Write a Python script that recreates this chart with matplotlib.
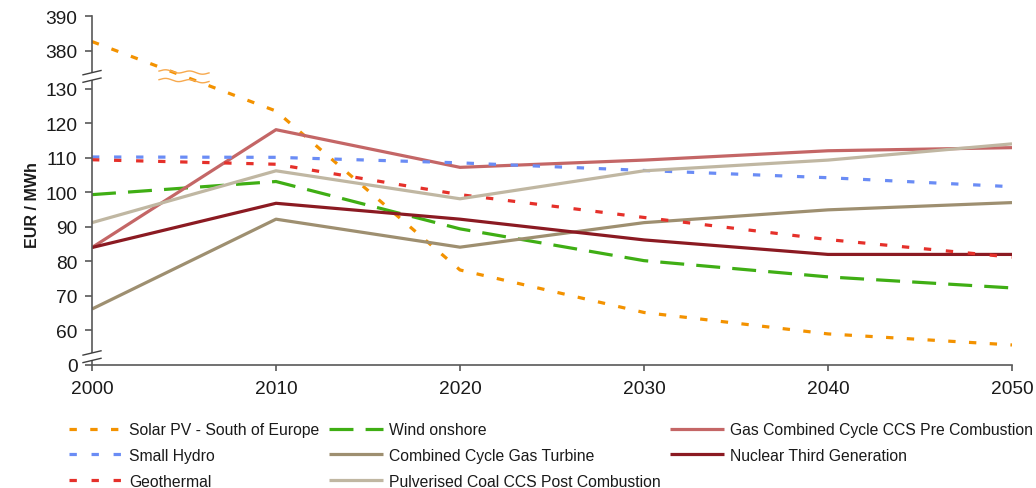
import numpy as np
import matplotlib
matplotlib.use("Agg")
import matplotlib.pyplot as plt
from matplotlib import transforms

# Levelised cost of electricity, EUR / MWh
years = [2000, 2010, 2020, 2030, 2040, 2050]

solar_pv = [382.6, 123.5, 77.5, 65.2, 59.0, 55.8]
wind_onshore = [99.3, 103.1, 89.4, 80.2, 75.5, 72.3]
small_hydro = [110.2, 110.1, 108.5, 106.3, 104.2, 101.6]
geothermal = [109.4, 108.1, 99.3, 92.7, 86.3, 81.2]
gas_cc_ccs_pre = [84.0, 118.1, 107.2, 109.3, 112.0, 112.9]
ccgt = [66.2, 92.2, 84.1, 91.2, 94.9, 97.0]
coal_ccs_post = [91.2, 106.2, 98.1, 106.2, 109.3, 114.0]
nuclear_gen3 = [84.0, 96.8, 92.2, 86.2, 82.0, 82.0]

y_ticks = [0, 60, 70, 80, 90, 100, 110, 120, 130, 380, 390]
x_ticks = years

plt.rcParams["font.family"] = ["Liberation Sans", "DejaVu Sans"]

# Broken value axis: 0..54 and 130..380 are squeezed together
BREAK_VALUES = [0, 54, 130, 380, 390]
BREAK_POS = [50, 54, 130, 141, 151]


def forward(v):
    return np.interp(v, BREAK_VALUES, BREAK_POS)


def inverse(p):
    return np.interp(p, BREAK_POS, BREAK_VALUES)


fig = plt.figure(figsize=(10.36, 4.89), dpi=100)
ax = fig.add_axes([92 / 1036, 123 / 489, 920 / 1036, 349 / 489])
ax.set_yscale("function", functions=(forward, inverse))

# (label, values, colour, dash pattern or None for solid)
series = [
    ("Solar PV - South of Europe", solar_pv, "#F39200", (2.3, 4.2)),
    ("Wind onshore", wind_onshore, "#3FAE14", (7.5, 3.8)),
    ("Gas Combined Cycle CCS Pre Combustion", gas_cc_ccs_pre, "#C46666", None),
    ("Small Hydro", small_hydro, "#6A8CF5", (2.3, 4.6)),
    ("Combined Cycle Gas Turbine", ccgt, "#9E8F70", None),
    ("Nuclear Third Generation", nuclear_gen3, "#8B1A22", None),
    ("Geothermal", geothermal, "#E5302A", (2.3, 4.6)),
    ("Pulverised Coal CCS Post Combustion", coal_ccs_post, "#C0B7A2", None),
]

handles = {}
for label, values, color, dashes in series:
    kw = dict(color=color, lw=2.3, label=label, solid_capstyle="butt")
    if dashes is not None:
        kw["dashes"] = dashes
        kw["dash_capstyle"] = "butt"
    (ln,) = ax.plot(years, values, **kw)
    handles[label] = ln

ax.set_xlim(2000, 2050)
ax.set_ylim(0, 390)
ax.set_xticks(x_ticks)
ax.set_xticklabels([str(y) for y in x_ticks])
ax.set_yticks(y_ticks)
ax.set_yticklabels([str(v) for v in y_ticks])
ax.yaxis.set_minor_locator(matplotlib.ticker.NullLocator())

for side in ("top", "right"):
    ax.spines[side].set_visible(False)
for side in ("left", "bottom"):
    ax.spines[side].set_color("#595959")
    ax.spines[side].set_linewidth(1.2)
ax.tick_params(axis="both", colors="#595959", labelcolor="#1a1a1a",
               labelsize=13.8, width=1.2)
ax.tick_params(axis="y", length=5, pad=5.5)
ax.tick_params(axis="x", length=4, pad=7)

ax.set_ylabel("EUR / MWh", fontsize=11.5, fontweight="bold", color="#1a1a1a")
ax.yaxis.set_label_coords(-0.056, 0.461)


# Break symbols on the value axis
def yfrac(pos):
    p0, p1 = forward(0), forward(390)
    return (pos - p0) / (p1 - p0)


def axis_break(pos, half_w=9.0, gap=7.5, rise=4.3):
    trans = fig.dpi_scale_trans + transforms.ScaledTranslation(
        0, yfrac(pos), ax.transAxes)
    s = 1 / fig.dpi
    xs = np.array([-half_w, half_w]) * s
    lo = np.array([-rise / 2 - gap / 2, rise / 2 - gap / 2]) * s
    hi = lo + gap * s
    ax.fill(np.r_[xs, xs[::-1]], np.r_[lo, hi[::-1]], color="white",
            transform=trans, clip_on=False, zorder=5, lw=0)
    for ys in (lo, hi):
        ax.plot(xs, ys, color="#404040", lw=1.0, transform=trans,
                clip_on=False, zorder=6)


axis_break(BREAK_POS[2] + 0.32 * (BREAK_POS[3] - BREAK_POS[2]))
axis_break(BREAK_POS[0] + 0.24 * (forward(60) - BREAK_POS[0]))

# Wavy break marks where the solar line crosses the squeezed range
mid_year = (years[0] + years[1]) / 2
mid_pos = (forward(solar_pv[0]) + forward(solar_pv[1])) / 2
wave_trans = fig.dpi_scale_trans + transforms.ScaledTranslation(
    (mid_year - 2000) / 50, yfrac(mid_pos), ax.transAxes)
wx = np.linspace(-25, 25, 200)
for off in (4.3, -4.3):
    wy = 1.3 * np.sin(2 * np.pi * wx / 24) + off - wx * 0.05
    ax.plot(wx / fig.dpi, wy / fig.dpi, color="#F7A94E", lw=1.0,
            transform=wave_trans, clip_on=False, zorder=6)

# Legend: three columns laid out row by row
order = [
    "Solar PV - South of Europe", "Small Hydro", "Geothermal",
    "Wind onshore", "Combined Cycle Gas Turbine",
    "Pulverised Coal CCS Post Combustion",
    "Gas Combined Cycle CCS Pre Combustion", "Nuclear Third Generation",
]
fig.legend([handles[k] for k in order], order, loc="upper left",
           bbox_to_anchor=(69 / 1036, 0.134), ncol=3, frameon=False,
           fontsize=11.3, handlelength=3.45, handletextpad=0.38,
           columnspacing=0.6, labelspacing=0.67, borderpad=0,
           borderaxespad=0, labelcolor="#1a1a1a")

fig.savefig("out.png", dpi=100)
